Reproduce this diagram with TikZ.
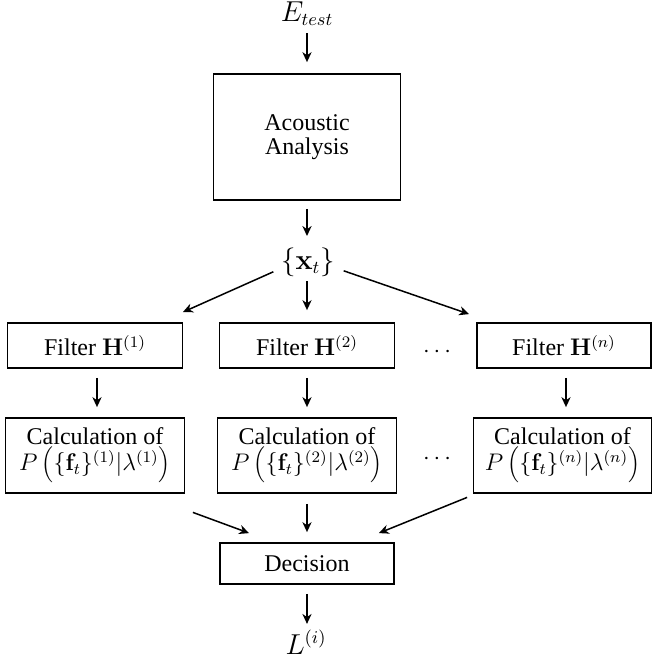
\documentclass[tikz,border=0pt]{standalone}
\usepackage[no-math]{fontspec}
\setmainfont{Liberation Serif}
\usetikzlibrary{arrows.meta,calc}
\begin{document}
\begin{tikzpicture}[x=0.5pt,y=-0.5pt,
  box/.style={draw,line width=0.9pt,inner sep=0pt,align=center,font=\fontsize{12pt}{13pt}\selectfont},
  filterbox/.style={box,minimum width=87.5pt,minimum height=22.5pt},
  calcbox/.style={box,minimum width=89.5pt,minimum height=37.5pt},
  lbl/.style={inner sep=0pt,font=\fontsize{13.5pt}{15pt}\selectfont},
  arr/.style={-{Stealth[length=5pt,width=4.6pt,inset=1.6pt]},line width=0.75pt}]
\useasboundingbox (0,0) rectangle (652,661);

% nodes
\node[lbl,anchor=base] (E) at (307,21) {$E_{test}$};
\node[box,minimum width=93.5pt,minimum height=63pt,font=\fontsize{12pt}{12pt}\selectfont] (ac) at (307,137) {Acoustic\\Analysis};
\node[lbl,anchor=base] (xt) at (308,269) {$\{\mathbf{x}_t\}$};

\node[filterbox] (f1) at (95,345.5) {Filter $\mathbf{H}^{(1)}$};
\node[filterbox] (f2) at (307,345.5) {Filter $\mathbf{H}^{(2)}$};
\node[filterbox,minimum width=87pt] (fn) at (564,345.5) {Filter $\mathbf{H}^{(n)}$};
\node[inner sep=0pt,font=\fontsize{12pt}{14pt}\selectfont] (d1) at (437,352) {$\cdots$};

\node[calcbox] (c1) at (95,455.5) {Calculation of\\$P\left(\{\mathbf{f}_t\}^{(1)}|\lambda^{(1)}\right)$};
\node[calcbox] (c2) at (307,455.5) {Calculation of\\$P\left(\{\mathbf{f}_t\}^{(2)}|\lambda^{(2)}\right)$};
\node[calcbox,minimum width=89pt] (cn) at (562.5,455.5) {Calculation of\\$P\left(\{\mathbf{f}_t\}^{(n)}|\lambda^{(n)}\right)$};
\node[inner sep=0pt,font=\fontsize{12pt}{14pt}\selectfont] (d2) at (437,459) {$\cdots$};

\node[box,minimum width=87pt,minimum height=20.5pt] (dec) at (307,563.5) {Decision};
\node[lbl,anchor=base] (L) at (306,654) {$L^{(i)}$};

% connectors
\draw[arr] ($(E.base)+(0,12)$) -- ($(ac.north)+(0,-11)$);
\draw[arr] ($(ac.south)+(0,8)$) -- ($(ac.south |- xt.north)+(0,-11)$);
\draw[arr] ($(f2.north)+(0,-41)$) -- ($(f2.north)+(0,-12)$);
\draw[arr] ($(xt.west)+(-7.5,10)$) -- ($(f1.north east)+(-0.5,-10)$);
\draw[arr] ($(xt.east)+(8.5,9)$) -- ($(fn.north west)+(-7,-8)$);

\draw[arr] ($(f1.south)+(2,9)$) -- ($(f1.south |- c1.north)+(2,-10)$);
\draw[arr] ($(f2.south)+(0,9)$) -- ($(f2.south |- c2.north)+(0,-10)$);
\draw[arr] ($(fn.south)+(2,9)$) -- ($(fn.south |- cn.north)+(2,-10)$);

\draw[arr] ($(c1.south east)+(7.5,18.5)$) -- ($(dec.north west)+(30,-9)$);
\draw[arr] ($(c2.south)+(0,10)$) -- ($(c2.south |- dec.north)+(0,-10)$);
\draw[arr] ($(cn.south west)+(-5.5,3.5)$) -- ($(dec.north east)+(-16,-9)$);

\draw[arr] ($(dec.south)+(0,9)$) -- ($(dec.south)+(0,39)$);
\end{tikzpicture}
\end{document}
